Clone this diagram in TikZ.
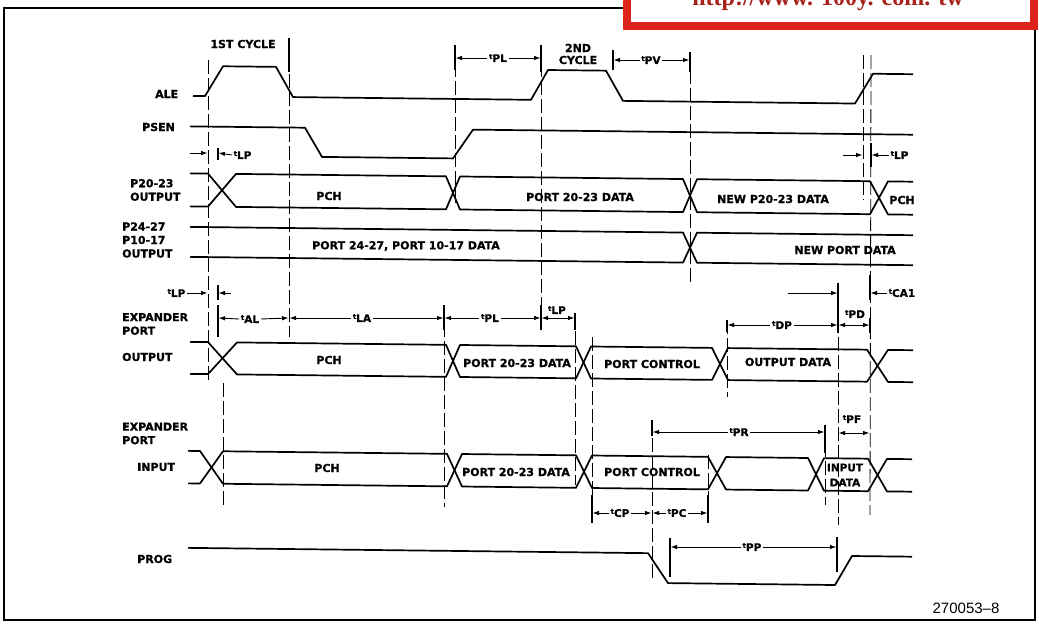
\documentclass[tikz,border=0pt]{standalone}
\usepackage{fontspec}
\setmainfont{DejaVu Sans}
\newfontfamily\lblfont{DejaVu Sans Bold}[FakeBold=0.8]
\newfontfamily\hdrfont{Liberation Serif}
\newfontfamily\numfont{Liberation Sans}
\usetikzlibrary{arrows.meta}
\definecolor{hdrred}{RGB}{221,36,28}
\definecolor{hdrtext}{RGB}{165,35,28}
\newcommand\tpar[1]{\raisebox{3pt}{\fontsize{7}{7}\selectfont t}#1}
\tikzset{
  wave/.style={line width=1.7pt, line join=round},
  vref/.style={line width=0.8pt, dash pattern=on 14pt off 4pt},
  tickmark/.style={line width=1.2pt},
  dim/.style={line width=0.9pt, -{Latex[length=6.5pt,width=4.5pt]}},
  dimboth/.style={line width=0.9pt, {Latex[length=6.5pt,width=4.5pt]}-{Latex[length=6.5pt,width=4.5pt]}},
  lbl/.style={font=\lblfont\fontsize{11}{13.5}\selectfont, inner sep=0pt},
  sig/.style={lbl, anchor=west, align=left},
  tlab/.style={font=\lblfont\fontsize{10.5}{12}\selectfont, inner sep=1.5pt},
}
\begin{document}
\begin{tikzpicture}[x=1pt,y=-1pt]
\useasboundingbox (0,0) rectangle (1039,624);
\clip (0,0) rectangle (1039,624);
% frame
\draw[line width=1.4pt] (623,8) -- (4,8) -- (4,620) -- (1035,620) -- (1035,30);
% red header
\draw[line width=8pt, draw=hdrred, fill=white] (627,-12) rectangle (1034,26);
\node[text=hdrtext, font=\hdrfont\bfseries\fontsize{24}{24}\selectfont, anchor=base, inner sep=0pt] (hdr) at (828,5) {http://www. 100y. com. tw};

% ---------------- waveforms (scan tilt as shear) ----------------
\begin{scope}[yshift=2.3pt, yslant=-0.0115]
% ALE
\draw[wave] (193,96) -- (205,96) -- (223,66) -- (276,66) -- (293,96) -- (531,96) -- (548,66) -- (606,66) -- (623,96) -- (855,96) -- (873,66) -- (913,66);
% PSEN
\draw[wave] (190,126.5) -- (305,126.5) -- (322,155.5) -- (453,155.5) -- (473,126.5) -- (913,126.5);
% P20-23
\draw[wave] (190,173.5) -- (208,173.5) -- (236,206.5) -- (446,206.5) -- (460,173.5) -- (683,173.5) -- (697,206.5) -- (870,206.5) -- (888,173.5) -- (913,173.5);
\draw[wave] (190,206.5) -- (208,206.5) -- (236,173.5) -- (446,173.5) -- (460,206.5) -- (683,206.5) -- (697,173.5) -- (870,173.5) -- (888,206.5) -- (913,206.5);
% P24-27
\draw[wave] (190,227) -- (683,227) -- (697,257) -- (913,257);
\draw[wave] (190,257) -- (683,257) -- (697,227) -- (913,227);
% expander output
\draw[wave] (190,342) -- (208,342) -- (237,374) -- (446,374) -- (460,342) -- (576,342) -- (591,374) -- (712,374) -- (728,342) -- (867,342) -- (888,374) -- (913,374);
\draw[wave] (190,374) -- (208,374) -- (237,342) -- (446,342) -- (460,374) -- (576,374) -- (591,342) -- (712,342) -- (728,374) -- (867,374) -- (888,342) -- (913,342);
% expander input
\draw[wave] (188,451) -- (200,451) -- (223,483.5) -- (447,483.5) -- (462,451) -- (576,451) -- (592,483.5) -- (708,483.5) -- (726,451) -- (808,451) -- (824,483.5) -- (868,483.5) -- (887,451) -- (912,451);
\draw[wave] (188,483.5) -- (200,483.5) -- (223,451) -- (447,451) -- (462,483.5) -- (576,483.5) -- (592,451) -- (708,451) -- (726,483.5) -- (808,483.5) -- (824,451) -- (868,451) -- (887,483.5) -- (912,483.5);
% PROG
\draw[wave] (188,548) -- (648,548) -- (668,577.7) -- (835,577.7) -- (852,548.5) -- (912,548.5);
\end{scope}

% ---------------- vertical reference lines ----------------
\draw[vref] (208,60) -- (208,383);
\draw[vref] (289,38) -- (289,337);
\draw[tickmark] (289,38) -- (289,72);
\draw[vref] (455,45) -- (455,205);
\draw[vref] (541,45) -- (541,318);
\draw[vref] (690,52) -- (690,285);
\draw[vref] (863,55) -- (863,200);
\draw[vref] (871,55) -- (870,515);
\draw[vref] (223,383) -- (223,507);
\draw[vref] (444,305) -- (444,507);
\draw[vref] (575,313) -- (575,485);
\draw[vref] (592,337) -- (592,523);
\draw[vref] (652,420) -- (652,578);
\draw[vref] (708,455) -- (708,523);
\draw[vref] (727,320) -- (727,397);
\draw[vref] (838,283) -- (838,525);
\draw[vref] (825,425) -- (825,505);

% ---------------- signal names ----------------
\node[sig] (nALE) at (155,94) {ALE};
\node[sig] (nPSEN) at (142,127) {PSEN};
\node[sig] (nP20) at (130,190) {P20-23\\OUTPUT};
\node[sig] (nP24) at (122,240) {P24-27\\P10-17\\OUTPUT};
\node[sig] (nEXO) at (122,324) {EXPANDER\\PORT};
\node[sig] (nOUT) at (122,357) {OUTPUT};
\node[sig] (nEXI) at (122,433.5) {EXPANDER\\PORT};
\node[sig] (nIN) at (137,467) {INPUT};
\node[sig] (nPROG) at (137,559) {PROG};

% ---------------- cycle labels ----------------
\node[lbl] (cyc1) at (243,44) {1ST CYCLE};
\node[lbl, align=center, font=\lblfont\fontsize{11}{12}\selectfont] (cyc2) at (578,54) {2ND\\CYCLE};

% ---------------- data labels ----------------
\node[lbl] (d1) at (329,196) {PCH};
\node[lbl] (d2) at (580,197) {PORT 20-23 DATA};
\node[lbl] (d3) at (773,199) {NEW P20-23 DATA};
\node[lbl] (d4) at (902,200) {PCH};
\node[lbl] (d5) at (406,246) {PORT 24-27, PORT 10-17 DATA};
\node[lbl] (d6) at (845,250) {NEW PORT DATA};
\node[lbl] (d7) at (329,360) {PCH};
\node[lbl] (d8) at (517,363) {PORT 20-23 DATA};
\node[lbl] (d9) at (652,364) {PORT CONTROL};
\node[lbl] (d10) at (788,362) {OUTPUT DATA};
\node[lbl] (d11) at (327,468) {PCH};
\node[lbl] (d12) at (516,472) {PORT 20-23 DATA};
\node[lbl] (d13) at (652,472) {PORT CONTROL};
\node[lbl, align=center, font=\lblfont\fontsize{10.5}{15}\selectfont] (d14) at (845,475) {INPUT\\DATA};

% ---------------- timing parameters ----------------
% top row
\node[tlab] (tPLa) at (498,58) {\tpar{PL}};
\draw[tickmark] (455,45) -- (455,70);
\draw[tickmark] (541,45) -- (541,72);
\draw[dim] (tPLa.west) -- (455.5,58);
\draw[dim] (tPLa.east) -- (540.5,58);
\node[tlab] (tPVa) at (651,60) {\tpar{PV}};
\draw[tickmark] (613,50) -- (613,70);
\draw[tickmark] (690,52) -- (690,72);
\draw[dim] (tPVa.west) -- (613.5,60);
\draw[dim] (tPVa.east) -- (689.5,60);
% tLP under PSEN
\node[tlab, anchor=west] (tLPa) at (232,155) {\tpar{LP}};
\coordinate (lpa1) at (190,153);
\draw[dim] (lpa1) -- (207.5,153);
\draw[tickmark] (218,148) -- (218,160);
\draw[dim] (tLPa.west) -- (218.5,153);
\node[tlab, anchor=west] (tLPb) at (889,155) {\tpar{LP}};
\coordinate (lpb1) at (843,155);
\draw[dim] (lpb1) -- (862.5,155);
\draw[tickmark] (871,143) -- (871,167);
\draw[dim] (tLPb.west) -- (871.5,155);
% expander tLP
\node[tlab, anchor=east] (tLPc) at (187,293) {\tpar{LP}};
\draw[dim] (tLPc.east) -- (207.5,293);
\draw[tickmark] (218,285) -- (218,300);
\coordinate (lpc2) at (231,293);
\draw[dim] (lpc2) -- (218.5,293);
% tAL, tLA, tPL, tLP
\draw[tickmark] (218,305) -- (218,337);
\node[tlab] (tALa) at (250,319) {\tpar{AL}};
\draw[dim] (tALa.west) -- (218.5,318);
\draw[dim] (tALa.east) -- (288.5,318);
\node[tlab] (tLAa) at (362,318) {\tpar{LA}};
\draw[dim] (tLAa.west) -- (289.5,318);
\draw[dim] (tLAa.east) -- (443.5,318);
\draw[tickmark] (444,305) -- (444,330);
\node[tlab] (tPLb) at (490,318) {\tpar{PL}};
\draw[dim] (tPLb.west) -- (444.5,318);
\draw[dim] (tPLb.east) -- (540.5,318);
\draw[tickmark] (541,305) -- (541,330);
\node[tlab] (tLPd) at (557,310) {\tpar{LP}};
\draw[dimboth] (541.5,318) -- (574.5,318);
\draw[tickmark] (575,313) -- (575,330);
% tCA1
\coordinate (ca0) at (788,293);
\draw[dim] (ca0) -- (837.5,293);
\draw[tickmark] (838,283) -- (838,333);
\draw[tickmark] (870,275) -- (870,300);
\node[tlab, anchor=west] (tCAa) at (887,293) {\tpar{CA1}};
\draw[dim] (tCAa.west) -- (870.5,293);
% tDP, tPD
\draw[tickmark] (727,320) -- (727,332);
\node[tlab] (tDPa) at (782,325) {\tpar{DP}};
\draw[dim] (tDPa.west) -- (727.5,325);
\draw[dim] (tDPa.east) -- (837.5,325);
\node[tlab] (tPDa) at (855,314) {\tpar{PD}};
\draw[dimboth] (838.5,325) -- (869.5,325);
\draw[tickmark] (870,318) -- (870,333);
% tPR, tPF
\draw[tickmark] (652,420) -- (652,436);
\node[tlab] (tPRa) at (739,432) {\tpar{PR}};
\draw[dim] (tPRa.west) -- (652.5,432);
\draw[dim] (tPRa.east) -- (824.5,432);
\draw[tickmark] (825,425) -- (825,453);
\node[tlab] (tPFa) at (852,419) {\tpar{PF}};
\draw[dimboth] (838.5,433) -- (869.5,433);
% tCP, tPC
\draw[tickmark] (592,495) -- (592,523);
\node[tlab] (tCPa) at (620,513) {\tpar{CP}};
\draw[dim] (tCPa.west) -- (592.5,513);
\draw[dim] (tCPa.east) -- (651.5,513);
\node[tlab] (tPCa) at (677,513) {\tpar{PC}};
\draw[dim] (tPCa.west) -- (652.5,513);
\draw[dim] (tPCa.east) -- (707.5,513);
\draw[tickmark] (708,495) -- (708,523);
% tPP
\draw[tickmark] (670,538) -- (670,577);
\node[tlab] (tPPa) at (752,547) {\tpar{PP}};
\draw[dim] (tPPa.west) -- (670.5,547);
\draw[dim] (tPPa.east) -- (836.5,547);
\draw[tickmark] (837,537) -- (837,572);

% figure number
\node[font=\numfont\fontsize{15}{15}\selectfont, inner sep=0pt] (fig) at (966,608) {270053\textendash8};
\end{tikzpicture}
\end{document}
